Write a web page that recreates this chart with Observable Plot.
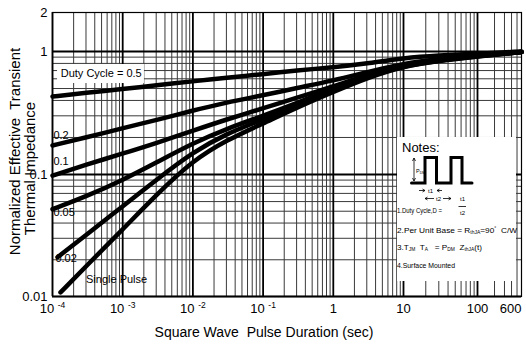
<!DOCTYPE html>
<html><head><meta charset="utf-8">
<script src="https://cdn.jsdelivr.net/npm/d3@7"></script>
<script src="https://cdn.jsdelivr.net/npm/@observablehq/plot@0.6"></script>
<style>
body{margin:0;background:#fff;}
svg{font-family:"Liberation Sans",Arial,sans-serif;}
</style>
</head><body><div id="chart"></div>
<script>
// ---- data (pulse duration in seconds, normalized Zth) ----
const tMain   = [1e-4, 3e-4, 1e-3, 3e-3, 1e-2, 3e-2, 0.1, 0.3, 1, 3, 10, 30, 100, 600];
const t002    = [1.18e-4, 3e-4, 1e-3, 3e-3, 1e-2, 3e-2, 0.1, 0.3, 1, 3, 10, 30, 100, 600];
const tSingle = [1.3e-4, 3e-4, 1e-3, 3e-3, 1e-2, 3e-2, 0.1, 0.3, 1, 3, 10, 30, 100, 600];
const zD05    = [0.43, 0.461, 0.496, 0.53, 0.573, 0.61, 0.655, 0.70, 0.745, 0.80, 0.885, 0.93, 0.96, 1.0];
const zD02    = [0.172, 0.20, 0.238, 0.277, 0.331, 0.385, 0.44, 0.505, 0.58, 0.68, 0.80, 0.87, 0.93, 0.99];
const zD01    = [0.098, 0.12, 0.148, 0.18, 0.227, 0.28, 0.345, 0.42, 0.52, 0.645, 0.775, 0.855, 0.925, 0.99];
const zD005   = [0.052, 0.066, 0.09, 0.125, 0.18, 0.235, 0.30, 0.38, 0.50, 0.63, 0.77, 0.85, 0.92, 0.99];
const zD002   = [0.021, 0.0319, 0.0549, 0.0903, 0.152, 0.215, 0.28, 0.37, 0.48, 0.62, 0.765, 0.845, 0.915, 0.99];
const zSingle = [0.0108, 0.0177, 0.0354, 0.068, 0.13, 0.19, 0.26, 0.35, 0.47, 0.61, 0.76, 0.84, 0.91, 0.99];

const seriesNames = ["0.5", "0.2", "0.1", "0.05", "0.02", "Single Pulse"];
const seriesT = [tMain, tMain, tMain, tMain, t002, tSingle];
const seriesZ = [zD05, zD02, zD01, zD005, zD002, zSingle];

const xTickValues = [1e-4, 1e-3, 1e-2, 1e-1, 1, 10, 100, 600];
const xTickLabels = ["10^-4", "10^-3", "10^-2", "10^-1", "1", "10", "100", "600"];
const yTickValues = [0.01, 0.1, 1, 2];
const yTickLabels = ["0.01", "0.1", "1", "2"];

// curve labels (text, anchor time, anchor value)
const labelText = ["0.2", "0.1", "0.05", "0.02", "Single Pulse"];
const labelT    = [1.03e-4, 1.03e-4, 1.03e-4, 1.1e-4, 3.0e-4];
const labelZ    = [0.207, 0.128, 0.049, 0.0205, 0.0138];

// ---- build tables ----
const rows = [];
seriesNames.forEach((name, i) => {
  seriesT[i].forEach((t, j) => rows.push({series: name, t, z: seriesZ[i][j]}));
});
const labels = labelText.map((s, i) => ({s, t: labelT[i], z: labelZ[i]}));
const xTicks = xTickValues.map((v, i) => ({v, s: xTickLabels[i]}));

const xDecades = [1e-4, 1e-3, 1e-2, 1e-1, 1, 10, 100];
const xMinor = [];
for (const d of xDecades) for (let m = 2; m <= 9; m++) if (m * d < 600) xMinor.push(m * d);
const yDecades = [0.01, 0.1, 1];
const yMinor = [];
for (const d of yDecades) for (let m = 2; m <= 9; m++) if (m * d < 2) yMinor.push(m * d);

const font = '"Liberation Sans", Arial, sans-serif';

function notesBox() {
  const g = d3.create("svg:g").attr("font-family", font).attr("fill", "black").attr("text-anchor", "start");
  g.append("rect").attr("x", 397).attr("y", 137).attr("width", 119).attr("height", 144).attr("fill", "white");
  g.append("text").attr("x", 402).attr("y", 152).attr("font-size", 13).text("Notes:");
  g.append("path").attr("d", "M411.5,183H425V157.5H436.5V183H451V157.5H462V183H472")
    .attr("fill", "none").attr("stroke", "black").attr("stroke-width", 3).attr("stroke-linecap", "round");
  const thin = (d) => g.append("path").attr("d", d).attr("fill", "none").attr("stroke", "black").attr("stroke-width", 0.8);
  // P_DM arrow
  thin("M414,158V181 M412.5,161L414,158L415.5,161 M412.5,178L414,181L415.5,178");
  const pdm = g.append("text").attr("x", 416).attr("y", 173).attr("font-size", 5.5);
  pdm.append("tspan").text("P");
  pdm.append("tspan").attr("font-size", 3.5).attr("dy", 1).text("DM");
  // t1 arrows
  thin("M419,190.5H425 M422.5,189L425,190.5L422.5,192 M437,190.5H442 M439.5,189L437,190.5L439.5,192");
  g.append("text").attr("x", 428).attr("y", 192.5).attr("font-size", 6).text("t1");
  // t2 arrows
  thin("M425,198.5H434 M427.5,197L425,198.5L427.5,200 M443,198.5H451 M448.5,197L451,198.5L448.5,200");
  g.append("text").attr("x", 436).attr("y", 200.5).attr("font-size", 6).text("t2");
  // fraction
  g.append("text").attr("x", 460).attr("y", 201).attr("font-size", 6).text("t1");
  thin("M458.5,206.5H466");
  g.append("text").attr("x", 460).attr("y", 215).attr("font-size", 6).text("t2");
  // lines
  g.append("text").attr("x", 397).attr("y", 212.5).attr("font-size", 7.5)
    .attr("textLength", 45).attr("lengthAdjust", "spacingAndGlyphs").text("1.Duty Cycle,D =");
  const l2 = g.append("text").attr("x", 397).attr("y", 232.5).attr("font-size", 7.5)
    .attr("textLength", 120).attr("lengthAdjust", "spacingAndGlyphs");
  l2.append("tspan").text("2.Per Unit Base = R");
  l2.append("tspan").attr("font-size", 4.5).attr("dy", 1.5).text("thJA");
  l2.append("tspan").attr("dy", -1.5).text("=90");
  l2.append("tspan").attr("font-size", 4.5).attr("dy", -3).text("°");
  l2.append("tspan").attr("dy", 3).text("  C/W");
  const l3 = g.append("text").attr("x", 397).attr("y", 249.5).attr("font-size", 7.5)
    .attr("textLength", 85).attr("lengthAdjust", "spacingAndGlyphs");
  l3.append("tspan").text("3.T");
  l3.append("tspan").attr("font-size", 4.5).attr("dy", 1.5).text("JM");
  l3.append("tspan").attr("dy", -1.5).text("  T");
  l3.append("tspan").attr("font-size", 4.5).attr("dy", 1.5).text("A");
  l3.append("tspan").attr("dy", -1.5).text("   = P");
  l3.append("tspan").attr("font-size", 4.5).attr("dy", 1.5).text("DM");
  l3.append("tspan").attr("dy", -1.5).text("  Z");
  l3.append("tspan").attr("font-size", 4.5).attr("dy", 1.5).text("thJA");
  l3.append("tspan").attr("dy", -1.5).text("(t)");
  g.append("text").attr("x", 397).attr("y", 267.5).attr("font-size", 7.5)
    .attr("textLength", 58).attr("lengthAdjust", "spacingAndGlyphs").text("4.Surface Mounted");
  return g.node();
}

const chart = Plot.plot({
  width: 526,
  height: 347,
  marginLeft: 52, marginRight: 5, marginTop: 12, marginBottom: 51,
  style: {fontFamily: font, background: "white", color: "black"},
  x: {type: "log", domain: [1e-4, 10, 100, 600], range: [52, 403, 477, 521], axis: null},
  y: {type: "log", domain: [0.01, 0.1, 1, 2], range: [296, 174, 51, 12], axis: null},
  marks: [
    Plot.ruleX(xMinor, {stroke: "#3a3a3a", strokeWidth: 1}),
    Plot.ruleY(yMinor, {stroke: "#3a3a3a", strokeWidth: 1}),
    Plot.ruleX(xDecades, {stroke: "black", strokeWidth: 1.8}),
    Plot.ruleY(yDecades, {stroke: "black", strokeWidth: 1.8}),
    Plot.rect([{x1: 1.18e-4, x2: 2.04e-3, y1: 0.549, y2: 0.784}], {x1: "x1", x2: "x2", y1: "y1", y2: "y2", fill: "white"}),
    Plot.text(["Duty Cycle = 0.5"], {x: 1.31e-4, y: 0.66, text: d => d, textAnchor: "start", fontSize: 11, fill: "black"}),
    Plot.line(rows, {x: "t", y: "z", z: "series", stroke: "black", strokeWidth: 4.5, curve: "basis", strokeLinecap: "round"}),
    Plot.text(labels, {x: "t", y: "z", text: "s", textAnchor: "start", fontSize: 11, fill: "black"}),
    notesBox,
    Plot.frame({stroke: "black", strokeWidth: 1.2}),
    Plot.text(xTicks, {filter: d => d.v < 600, x: "v", text: "s", frameAnchor: "bottom", dy: 16, fontSize: 13, fill: "black"}),
    Plot.text(xTicks, {filter: d => d.v >= 600, x: "v", text: "s", frameAnchor: "bottom", dy: 16, textAnchor: "end", fontSize: 13, fill: "black"}),
    Plot.text(yTickValues.map((v, i) => ({v, s: yTickLabels[i]})), {y: "v", text: "s", frameAnchor: "left", dx: -5, textAnchor: "end", fontSize: 13, fill: "black"}),
    Plot.text(["Square Wave  Pulse Duration (sec)"], {frameAnchor: "bottom", text: d => d, dx: -23, dy: 40, fontSize: 14, fill: "black"}),
    Plot.text(["Normalized Effective  Transient"], {frameAnchor: "left", textAnchor: "middle", text: d => d, rotate: -90, dx: -37, dy: -3, fontSize: 15, fill: "black", letterSpacing: 2}),
    Plot.text(["Thermal Impedance"], {frameAnchor: "left", textAnchor: "middle", text: d => d, rotate: -90, dx: -22, dy: 14, fontSize: 15, fill: "black", letterSpacing: 2})
  ]
});

// superscript exponents on the x tick labels
d3.select(chart).selectAll("text").each(function () {
  const t = d3.select(this);
  if (this.querySelector("tspan")) return;
  const s = t.text();
  const i = s.indexOf("^");
  if (i < 0) return;
  t.text(null);
  t.append("tspan").text(s.slice(0, i) + " ");
  t.append("tspan").attr("dy", "-0.5em").attr("font-size", 8.5).text(s.slice(i + 1));
});
document.getElementById("chart").append(chart);
</script>
</body></html>
